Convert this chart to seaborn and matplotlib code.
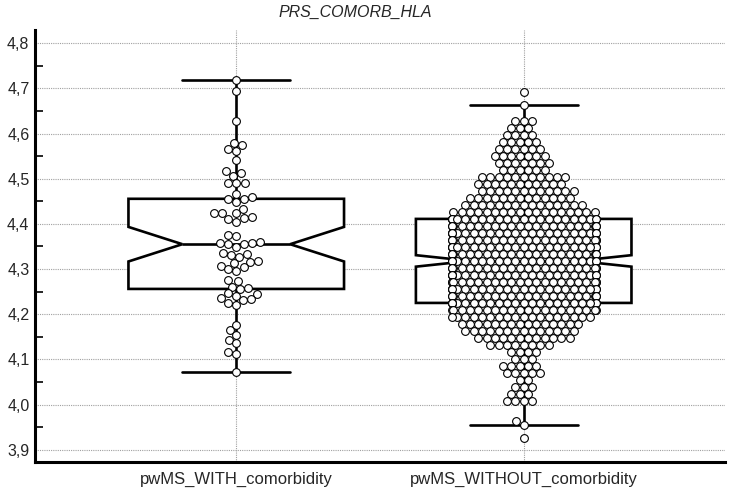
import numpy as np
import pandas as pd
import matplotlib
matplotlib.use("Agg")
import matplotlib.pyplot as plt
import seaborn as sns
from matplotlib.ticker import MultipleLocator, FuncFormatter
from seaborn.categorical import Beeswarm

grupos = ["pwMS_WITH_comorbidity", "pwMS_WITHOUT_comorbidity"]

# PRS de pacientes con comorbilidad (leidos punto a punto)
prs_con = [4.718, 4.694, 4.628, 4.579, 4.574, 4.566, 4.562, 4.541, 4.517, 4.512,
           4.506, 4.491, 4.491, 4.490, 4.467, 4.459, 4.456, 4.455, 4.449, 4.432,
           4.425, 4.423, 4.423, 4.416, 4.412, 4.411, 4.405, 4.375, 4.373, 4.359,
           4.358, 4.357, 4.356, 4.355, 4.349, 4.335, 4.333, 4.331, 4.327, 4.318,
           4.316, 4.313, 4.307, 4.304, 4.299, 4.296, 4.276, 4.274, 4.261, 4.257,
           4.255, 4.246, 4.245, 4.240, 4.235, 4.233, 4.231, 4.225, 4.220, 4.176,
           4.165, 4.154, 4.143, 4.136, 4.117, 4.111, 4.071]

# sin comorbilidad: filas del enjambre (valor) y cuantos puntos tiene cada fila
filas_sin = [4.692, 4.664, 4.6280, 4.6125, 4.5970, 4.5815, 4.5660, 4.5505, 4.5350,
             4.5195, 4.5040, 4.4885, 4.4730, 4.4575, 4.4420, 4.4265, 4.4110, 4.3955,
             4.3800, 4.3645, 4.3490, 4.3335, 4.3180, 4.3025, 4.2870, 4.2715, 4.2560,
             4.2405, 4.2250, 4.2095, 4.1940, 4.1785, 4.1630, 4.1475, 4.1320, 4.1165,
             4.1010, 4.0855, 4.0700, 4.0545, 4.0390, 4.0235, 4.0080, 3.963, 3.955, 3.926]
puntos_sin = [1, 1, 3, 3, 4, 5, 6, 7, 7,
              6, 11, 11, 12, 13, 15, 18, 22, 22,
              22, 22, 22, 22, 22, 22, 22, 22, 22,
              22, 22, 20, 18, 15, 14, 12, 8, 4,
              3, 5, 5, 2, 3, 3, 4, 1, 1, 1]

prs_sin = np.repeat(filas_sin, puntos_sin)

df = pd.DataFrame({
    "grupo": [grupos[0]] * len(prs_con) + [grupos[1]] * len(prs_sin),
    "prs": np.concatenate([prs_con, prs_sin]),
})

sns.set_style("white")
plt.rcParams["font.family"] = ["Liberation Sans", "DejaVu Sans"]

fig = plt.figure(figsize=(7.3, 4.93), dpi=100)
ax = fig.add_axes([0.048, 0.063, 0.945, 0.876])

sns.boxplot(data=df, x="grupo", y="prs", order=grupos, notch=True, width=0.75,
            showfliers=False, color="white", linecolor="black", linewidth=1.9,
            saturation=1, ax=ax)
sns.stripplot(data=df, x="grupo", y="prs", order=grupos, jitter=False,
              color="white", edgecolor="black", linewidth=0.7, size=5.0,
              ax=ax, zorder=3)

ax.set_xlim(-0.70, 1.70)
ax.set_ylim(3.873, 4.829)

# enjambre (mismo algoritmo de seaborn, pero mas angosto); luego los circulos
# se dibujan un poco mas grandes, se solapan un poco como en el original
enjambre = Beeswarm(orient="x", width=0.5, warn_thresh=1)
for col in ax.collections:
    offs = col.get_offsets()
    if len(offs) > 1:
        enjambre(col, offs[0, 0])
        col.set_sizes([5.6 ** 2])
        col.set_linewidth(0.8)

ax.set_xlabel("")
ax.set_ylabel("")
ax.yaxis.set_major_locator(MultipleLocator(0.1))
ax.yaxis.set_minor_locator(MultipleLocator(0.05))
ax.yaxis.set_major_formatter(FuncFormatter(lambda v, p: f"{v:.1f}".replace(".", ",")))
ax.tick_params(axis="y", which="major", direction="in", length=9, width=1.6,
               labelsize=11.5, pad=4)
ax.tick_params(axis="y", which="minor", direction="in", length=6, width=1.4, left=True)
ax.tick_params(axis="x", direction="out", length=4, width=0.8, labelsize=12, pad=3)

ax.grid(True, which="major", linestyle=(0, (1, 1)), color="#a0a0a0", linewidth=0.8)
ax.set_axisbelow(True)

for lado in ["top", "right"]:
    ax.spines[lado].set_visible(False)
for lado in ["left", "bottom"]:
    ax.spines[lado].set_linewidth(2.2)
    ax.spines[lado].set_color("black")

fig.text(0.486, 0.975, "PRS_COMORB_HLA", style="italic", ha="center", va="center",
         fontsize=11.5)

fig.savefig("out.png", dpi=100)
